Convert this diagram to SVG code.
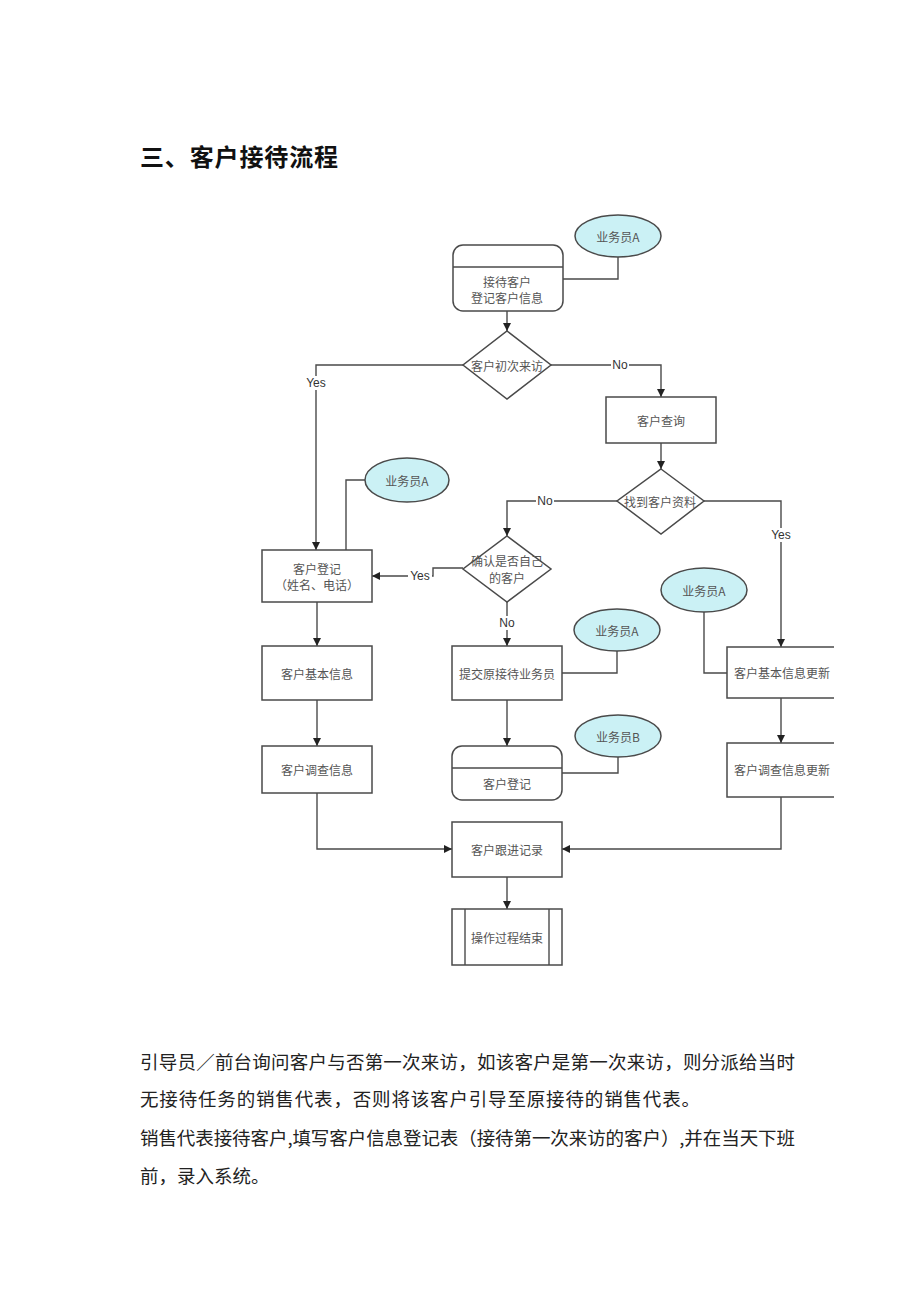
<svg xmlns="http://www.w3.org/2000/svg" width="920" height="1302" viewBox="0 0 920 1302">
<style>
.nd{fill:#fff;stroke:#4a4a4a;stroke-width:1.5}
.el{fill:#cbf1f5;stroke:#4a4a4a;stroke-width:1.5}
.t{font-family:"Noto Sans CJK SC",sans-serif;font-size:12px;fill:#555;text-anchor:middle;dominant-baseline:central}
.c{fill:none;stroke:#4a4a4a;stroke-width:1.4}
.lb{font-family:"Liberation Sans",Arial,sans-serif;font-size:12px;fill:#333;text-anchor:middle;dominant-baseline:central}
.bg{fill:#fff}
.p{font-family:"Noto Sans CJK SC",sans-serif;font-size:18.5px;fill:#222}
</style>
<defs>
<marker id="ar" markerWidth="8" markerHeight="8" refX="8" refY="4" orient="auto" markerUnits="userSpaceOnUse">
<path d="M0,0 L8,4 L0,8 z" fill="#222"/>
</marker>
<clipPath id="clip"><rect x="0" y="0" width="834" height="1302"/></clipPath>
</defs>
<rect width="920" height="1302" fill="#fff"/>
<text x="140" y="166" font-family="Noto Sans CJK SC,sans-serif" font-size="24" font-weight="bold" fill="#111" textLength="198" lengthAdjust="spacing">三、客户接待流程</text>

<g clip-path="url(#clip)">
<g id="connectors">
<polyline class="c" points="618,257 618,279 563,279"/>
<polyline class="c" points="507,311 507,331" marker-end="url(#ar)"/>
<polyline class="c" points="463,365 316,365 316,550" marker-end="url(#ar)"/>
<polyline class="c" points="551,365 661,365 661,397" marker-end="url(#ar)"/>
<polyline class="c" points="661,443 661,469" marker-end="url(#ar)"/>
<polyline class="c" points="704,501 781,501 781,647" marker-end="url(#ar)"/>
<polyline class="c" points="617,501 507,501 507,536" marker-end="url(#ar)"/>
<polyline class="c" points="463,568 433,568 433,576 372,576" marker-end="url(#ar)"/>
<polyline class="c" points="365,480 346,480 346,550"/>
<polyline class="c" points="317,602 317,646" marker-end="url(#ar)"/>
<polyline class="c" points="317,700 317,746" marker-end="url(#ar)"/>
<polyline class="c" points="317,793 317,849 452,849" marker-end="url(#ar)"/>
<polyline class="c" points="507,602 507,646" marker-end="url(#ar)"/>
<polyline class="c" points="617,651 617,673 562,673"/>
<polyline class="c" points="507,700 507,746" marker-end="url(#ar)"/>
<polyline class="c" points="618,757 618,773 562,773"/>
<polyline class="c" points="704,612 704,673 727,673"/>
<polyline class="c" points="781,698 781,743" marker-end="url(#ar)"/>
<polyline class="c" points="781,797 781,849 562,849" marker-end="url(#ar)"/>
<polyline class="c" points="507,877 507,909" marker-end="url(#ar)"/>
<rect class="bg" x="304" y="376" width="24" height="14"/><text class="lb" x="316" y="383">Yes</text>
<rect class="bg" x="611" y="358" width="18" height="14"/><text class="lb" x="620" y="365">No</text>
<rect class="bg" x="769" y="528" width="24" height="14"/><text class="lb" x="781" y="535">Yes</text>
<rect class="bg" x="536" y="494" width="18" height="14"/><text class="lb" x="545" y="501">No</text>
<rect class="bg" x="408" y="569" width="24" height="14"/><text class="lb" x="420" y="576">Yes</text>
<rect class="bg" x="498" y="616" width="18" height="14"/><text class="lb" x="507" y="623">No</text>
</g>

<g id="staffA1"><ellipse class="el" cx="618" cy="236" rx="43" ry="21"/><text class="t" x="618" y="236">业务员A</text></g>
<g id="reception"><rect class="nd" x="453" y="245" width="110" height="66" rx="10"/><line class="c" x1="453" y1="267" x2="563" y2="267"/><text class="t" x="507" y="281">接待客户</text><text class="t" x="507" y="297">登记客户信息</text></g>
<g id="firstVisit"><polygon class="nd" points="507,331 551,365 507,399 463,365"/><text class="t" x="507" y="365">客户初次来访</text></g>
<g id="query"><rect class="nd" x="606" y="397" width="110" height="46"/><text class="t" x="661" y="420">客户查询</text></g>
<g id="found"><polygon class="nd" points="661,469 704,501 661,534 617,501"/><text class="t" x="660" y="501">找到客户资料</text></g>
<g id="ownCustomer"><polygon class="nd" points="507,536 551,569 507,602 463,569"/><text class="t" x="507" y="560">确认是否自己</text><text class="t" x="507" y="577">的客户</text></g>
<g id="staffA2"><ellipse class="el" cx="407" cy="480" rx="42" ry="22"/><text class="t" x="407" y="480">业务员A</text></g>
<g id="register"><rect class="nd" x="262" y="550" width="110" height="52"/><text class="t" x="317" y="568">客户登记</text><text class="t" x="317" y="584">（姓名、电话）</text></g>
<g id="basicInfo"><rect class="nd" x="262" y="646" width="110" height="54"/><text class="t" x="317" y="673">客户基本信息</text></g>
<g id="surveyInfo"><rect class="nd" x="262" y="746" width="110" height="47"/><text class="t" x="317" y="769">客户调查信息</text></g>
<g id="submit"><rect class="nd" x="452" y="646" width="110" height="54"/><text class="t" x="507" y="673">提交原接待业务员</text></g>
<g id="staffA3"><ellipse class="el" cx="617" cy="630" rx="43" ry="21"/><text class="t" x="617" y="630">业务员A</text></g>
<g id="register2"><rect class="nd" x="452" y="746" width="110" height="54" rx="10"/><line class="c" x1="452" y1="768" x2="562" y2="768"/><text class="t" x="507" y="783">客户登记</text></g>
<g id="staffB"><ellipse class="el" cx="618" cy="736" rx="43" ry="21"/><text class="t" x="618" y="736">业务员B</text></g>
<g id="staffA4"><ellipse class="el" cx="704" cy="590" rx="43" ry="22"/><text class="t" x="704" y="590">业务员A</text></g>
<g id="basicUpdate"><rect class="nd" x="727" y="647" width="112" height="51"/><text class="t" x="782" y="672">客户基本信息更新</text></g>
<g id="surveyUpdate"><rect class="nd" x="727" y="743" width="112" height="54"/><text class="t" x="782" y="769">客户调查信息更新</text></g>
<g id="followUp"><rect class="nd" x="452" y="822" width="110" height="55"/><text class="t" x="507" y="849">客户跟进记录</text></g>
<g id="end"><rect class="nd" x="452" y="909" width="110" height="56"/><line class="c" x1="465" y1="909" x2="465" y2="965"/><line class="c" x1="549" y1="909" x2="549" y2="965"/><text class="t" x="507" y="937">操作过程结束</text></g>
</g>

<text class="p" x="140" y="1069" textLength="655" lengthAdjust="spacing">引导员／前台询问客户与否第一次来访，如该客户是第一次来访，则分派给当时</text>
<text class="p" x="140" y="1106" textLength="560" lengthAdjust="spacing">无接待任务的销售代表，否则将该客户引导至原接待的销售代表。</text>
<text class="p" x="140" y="1145" textLength="655" lengthAdjust="spacing">销售代表接待客户,填写客户信息登记表（接待第一次来访的客户）,并在当天下班</text>
<text class="p" x="140" y="1183">前，录入系统。</text>
</svg>
